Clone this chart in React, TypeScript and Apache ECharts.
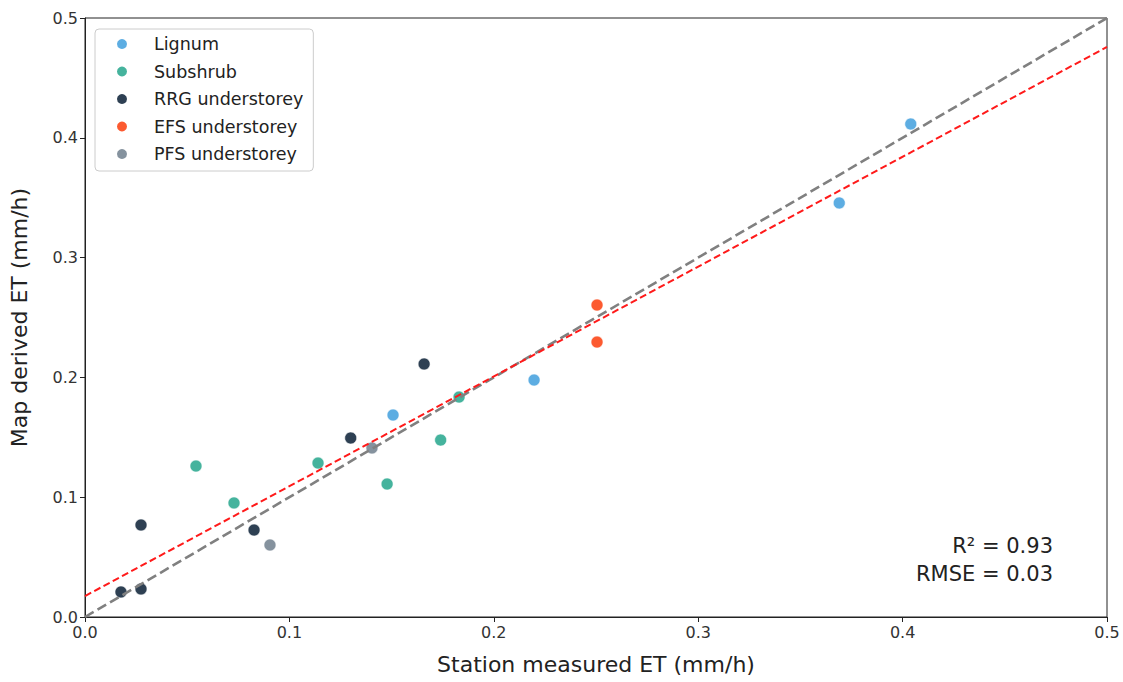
import React, { useEffect, useRef } from "react";
import * as echarts from "echarts";

const lignum: number[][] = [
  [0.404, 0.4115],
  [0.369, 0.3456],
  [0.2197, 0.1978],
  [0.1507, 0.1686],
];
const subshrub: number[][] = [
  [0.0543, 0.126],
  [0.0729, 0.0952],
  [0.114, 0.1285],
  [0.183, 0.1836],
  [0.174, 0.1477],
  [0.1478, 0.111],
];
const rrg: number[][] = [
  [0.0274, 0.0768],
  [0.0176, 0.0209],
  [0.0274, 0.0234],
  [0.0827, 0.0726],
  [0.13, 0.1494],
  [0.1659, 0.2112],
];
const efs: number[][] = [
  [0.2505, 0.2604],
  [0.2505, 0.2295],
];
const pfs: number[][] = [
  [0.0905, 0.0601],
  [0.1404, 0.1411],
];
const oneToOne: number[][] = [
  [0, 0],
  [0.5, 0.5],
];
const fitLine: number[][] = [
  [0, 0.0175],
  [0.5, 0.4758],
];
const seriesNames = ["Lignum", "Subshrub", "RRG understorey", "EFS understorey", "PFS understorey"];
const seriesColors = ["#5dade2", "#45b39d", "#2e4053", "#fc5a30", "#85929e"];
const seriesData = [lignum, subshrub, rrg, efs, pfs];
const statsLines = ["R² = 0.93", "RMSE = 0.03"];

const FONT = "DejaVu Sans";

export default function App() {
  const ref = useRef<HTMLDivElement>(null);
  useEffect(() => {
    if (!ref.current) return;
    const chart = echarts.init(ref.current, null, { renderer: "svg" });
    const scatter = seriesNames.map((name, i) => ({
      name,
      type: "scatter",
      data: seriesData[i],
      symbol: "circle",
      symbolSize: 12,
      itemStyle: { color: seriesColors[i], opacity: 1, borderColor: "#fff", borderWidth: 0.6 },
      z: 2,
    }));
    const axisCommon = {
      type: "value",
      min: 0,
      max: 0.5,
      interval: 0.1,
      nameLocation: "middle",
      nameTextStyle: { fontSize: 22, color: "#222", fontFamily: FONT },
      axisLine: { show: true, lineStyle: { color: "#222", width: 1 } },
      axisTick: { show: true, length: 5, lineStyle: { color: "#222" } },
      axisLabel: {
        fontSize: 16,
        color: "#333",
        fontFamily: FONT,
        margin: 7,
        formatter: (v: number) => v.toFixed(1),
      },
      splitLine: { show: false },
    };
    chart.setOption({
      animation: false,
      textStyle: { fontFamily: FONT },
      grid: {
        left: 85,
        right: 16,
        top: 18,
        bottom: 65,
        show: true,
        borderColor: "#222",
        borderWidth: 1,
        backgroundColor: "transparent",
        containLabel: false,
        outerBoundsMode: "none",
      },
      xAxis: { ...axisCommon, name: "Station measured ET (mm/h)", nameGap: 36 },
      yAxis: { ...axisCommon, name: "Map derived ET (mm/h)", nameGap: 55 },
      legend: {
        data: seriesNames,
        orient: "vertical",
        left: 95,
        top: 29,
        icon: "circle",
        itemWidth: 12,
        itemHeight: 12,
        itemGap: 9.5,
        padding: [6, 10, 8, 20],
        backgroundColor: "#fff",
        borderColor: "#ccc",
        borderWidth: 1,
        borderRadius: 4,
        textStyle: {
          fontSize: 17.5,
          lineHeight: 18,
          color: "#222",
          fontFamily: FONT,
          padding: [0, 0, 0, 21],
        },
      },
      series: [
        ...scatter,
        {
          type: "line",
          data: oneToOne,
          symbol: "none",
          lineStyle: { color: "#808080", width: 2.6, type: [10, 4.5] },
          z: 3,
          silent: true,
        },
        {
          type: "line",
          data: fitLine,
          symbol: "none",
          lineStyle: { color: "#ff1a1a", width: 2, type: [7, 3.5] },
          z: 4,
          silent: true,
        },
      ],
      graphic: statsLines.map((t, i) => ({
        type: "text",
        x: 1053,
        y: 546 + i * 28,
        style: {
          text: t,
          fontSize: 21,
          fontFamily: FONT,
          fill: "#222",
          align: "right",
          verticalAlign: "middle",
        },
      })),
    });
    return () => chart.dispose();
  }, []);
  return (
    <div
      ref={ref}
      style={{ position: "fixed", left: 0, top: 0, width: 1123, height: 682, background: "#fff" }}
    />
  );
}
